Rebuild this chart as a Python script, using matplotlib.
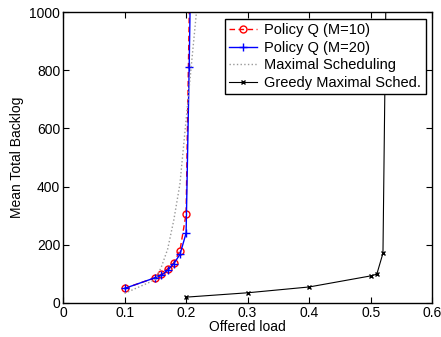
import matplotlib
matplotlib.use("Agg")
import matplotlib.pyplot as plt
from matplotlib.ticker import FixedLocator, FixedFormatter

plt.rcParams['font.family'] = ['Liberation Sans', 'DejaVu Sans']

# Policy Q (M=10)
x_q10 = [0.1, 0.15, 0.16, 0.17, 0.18, 0.19, 0.2, 0.21]
y_q10 = [50, 87, 99, 118, 138, 180, 307, 1650]
# Policy Q (M=20)
x_q20 = [0.1, 0.15, 0.16, 0.17, 0.18, 0.19, 0.2, 0.205, 0.21]
y_q20 = [50, 87, 95, 112, 135, 167, 240, 810, 1500]
# Maximal Scheduling
x_max = [0.1, 0.15, 0.16, 0.17, 0.18, 0.19, 0.2, 0.21, 0.22]
y_max = [33, 80, 125, 185, 285, 410, 630, 850, 1070]
# Greedy Maximal Scheduling
x_gms = [0.2, 0.3, 0.4, 0.5, 0.51, 0.52, 0.53]
y_gms = [20, 35, 55, 93, 99, 171, 2000]

xticks = [0, 0.1, 0.2, 0.3, 0.4, 0.5, 0.6]
xticklabels = ["0", "0.1", "0.2", "0.3", "0.4", "0.5", "0.6"]
yticks = [0, 200, 400, 600, 800, 1000]
yticklabels = ["0", "200", "400", "600", "800", "1000"]

fig = plt.figure(figsize=(4.41, 3.37), dpi=100)
ax = fig.add_axes([0.143, 0.101, 0.837, 0.863])

ax.plot(x_q10, y_q10, color='red', linestyle='--', marker='o', markersize=5,
        markerfacecolor='none', markeredgecolor='red', linewidth=1.0,
        label='Policy Q (M=10)', dashes=(4, 2.5))
ax.plot(x_q20, y_q20, color='blue', linestyle='-', marker='+', markersize=6,
        linewidth=1.0, label='Policy Q (M=20)')
ax.plot(x_max, y_max, color='#999999', linestyle=':', linewidth=1.0,
        label='Maximal Scheduling')
ax.plot(x_gms, y_gms, color='black', linestyle='-', marker='x', markersize=3,
        linewidth=0.8, label='Greedy Maximal Sched.')

ax.set_xlim(0, 0.6)
ax.set_ylim(0, 1000)
ax.xaxis.set_major_locator(FixedLocator(xticks))
ax.xaxis.set_major_formatter(FixedFormatter(xticklabels))
ax.yaxis.set_major_locator(FixedLocator(yticks))
ax.yaxis.set_major_formatter(FixedFormatter(yticklabels))
ax.tick_params(direction='in', top=True, right=True, labelsize=10, length=4,
               width=0.8, pad=2)
for s in ax.spines.values():
    s.set_linewidth(1.0)

ax.set_xlabel('Offered load', fontsize=10, labelpad=0)
ax.set_ylabel('Mean Total Backlog', fontsize=10, labelpad=4)

leg = ax.legend(loc='upper right', fontsize=10.5, frameon=True, fancybox=False,
                edgecolor='black', framealpha=1, borderaxespad=0.45,
                handlelength=1.9, handletextpad=0.5, borderpad=0.3,
                labelspacing=0.25, numpoints=1)
leg.get_frame().set_linewidth(1.0)

fig.savefig('out.png', dpi=100)
